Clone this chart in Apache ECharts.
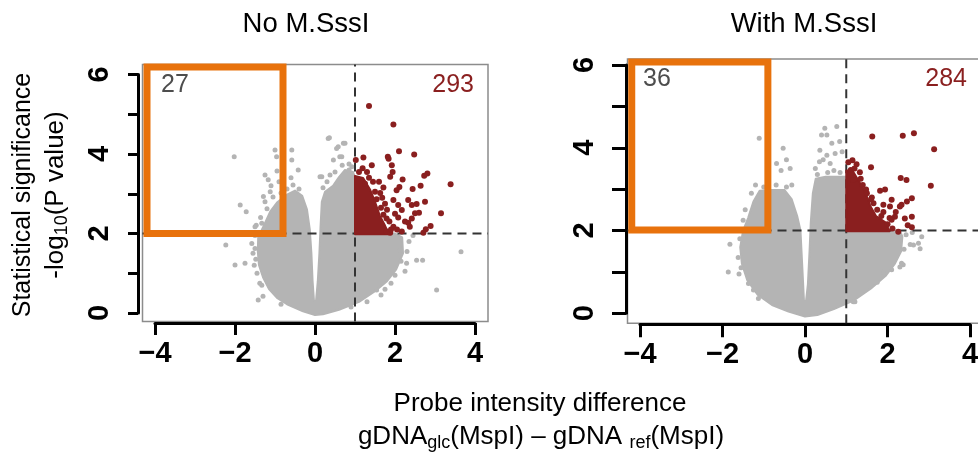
<!DOCTYPE html>
<html><head><meta charset="utf-8">
<script src="https://cdn.jsdelivr.net/npm/echarts@6/dist/echarts.min.js"></script>
<style>html,body{margin:0;padding:0;background:#fff}#c{width:978px;height:452px}</style>
</head><body><div id="c"></div>
<script>
// ---------------- data ----------------
const panelTitles = ['No M.SssI', 'With M.SssI'];
const xTickValues = [-4, -2, 0, 2, 4];
const yTickValues = [0, 1, 2, 3, 4, 5, 6];
const diffCut = 1;          // x threshold (dashed vertical)
const sigCut = 2;           // y threshold (dashed horizontal)
const countsNoSss = ['27', '293'];
const countsWithSss = ['36', '284'];

// dense cloud outline (non-significant probes), data units
const cloudNoSss = [[0,-0.05],[-0.3,0.04],[-0.7,0.22],[-0.95,0.38],[-1.15,0.6],[-1.3,0.9],[-1.4,1.2],[-1.43,1.55],[-1.42,1.9],[-1.28,2.2],[-1.12,2.55],[-0.95,2.78],[-0.7,2.98],[-0.5,3.08],[-0.32,2.95],[-0.2,2.6],[-0.13,2.1],[-0.09,1.5],[-0.06,0.8],[-0.025,0.3],[0.025,0.3],[0.07,0.8],[0.11,1.5],[0.14,2.2],[0.17,2.8],[0.25,3.05],[0.45,3.2],[0.6,3.42],[0.75,3.6],[0.95,3.55],[1.0,3.4],[1.0,2.0],[1.5,2.0],[2.0,2.0],[2.18,1.9],[2.2,1.5],[2.03,1.1],[1.8,0.8],[1.5,0.55],[1.1,0.28],[0.6,0.08],[0.2,-0.03]];
const cloudWithSss = [[0,-0.08],[-0.4,0.04],[-0.8,0.2],[-1.15,0.45],[-1.4,0.8],[-1.53,1.2],[-1.57,1.6],[-1.5,2.0],[-1.38,2.3],[-1.25,2.7],[-1.1,2.96],[-0.8,2.98],[-0.5,2.98],[-0.32,2.75],[-0.19,2.35],[-0.11,2.0],[-0.07,1.2],[-0.025,0.3],[0.025,0.3],[0.07,0.7],[0.11,1.5],[0.14,2.2],[0.19,2.9],[0.26,3.25],[0.5,3.3],[0.8,3.3],[1.0,3.3],[1.0,2.0],[1.6,2.0],[2.3,2.0],[2.36,1.85],[2.33,1.5],[2.18,1.2],[1.95,0.9],[1.6,0.6],[1.2,0.32],[0.7,0.1],[0.3,-0.04]];

// scattered non-significant probes
const grayNoSss = [[-2.02,3.93],[-1.87,2.72],[-1.72,2.55],[-2.23,1.71],[-2.0,1.21],[-1.75,1.25],[-1.47,2.21],[-1.0,4.1],[-0.96,3.93],[-0.58,4.1],[-0.58,3.85],[-0.42,3.6],[-0.95,3.57],[-1.25,3.47],[-1.17,3.35],[-1.1,3.2],[-1.12,3.05],[-1.29,2.93],[-1.25,2.8],[-1.33,2.26],[-1.5,2.17],[-1.58,1.75],[-1.55,1.5],[-1.52,1.2],[-1.42,0.33],[-1.3,0.42],[-1.33,0.7],[-0.85,0.22],[-1.45,1.0],[-1.5,1.95],[-1.38,0.75],[-1.48,1.35],[-1.5,1.62],[-1.36,2.4],[-1.2,2.62],[-1.05,2.92],[-0.85,3.02],[-0.7,3.12],[-0.55,3.22],[-0.4,3.12],[-0.9,3.3],[-0.6,3.4],[0.36,4.41],[0.58,4.18],[0.71,4.27],[0.62,3.93],[0.92,3.68],[0.17,3.43],[0.375,3.47],[0.125,3.43],[0.33,4.39],[0.54,4.14],[0.75,4.27],[0.67,3.93],[0.46,3.85],[0.85,3.75],[0.3,3.3],[0.2,3.15],[0.5,3.55],[0.68,3.72],[0.85,3.6],[3.65,1.54],[3.04,0.58],[2.54,1.33],[2.69,1.33],[2.29,1.25],[1.54,0.58],[1.65,0.45],[2.125,1.58],[2.35,1.8],[2.45,1.95],[2.3,1.55],[2.0,0.95],[1.9,0.75],[1.3,0.28],[0.9,0.15],[2.25,1.05],[2.15,1.3],[1.75,0.6]];
const grayWithSss = [[-1.11,4.23],[-0.53,3.99],[-0.45,3.71],[-0.36,3.5],[-0.69,3.62],[-0.58,3.45],[-0.32,3.1],[-1.5,2.25],[-1.82,1.67],[-1.86,1.0],[-1.37,0.72],[-1.25,0.56],[-1.13,0.36],[-1.65,2.0],[-1.62,1.35],[-1.3,2.9],[-1.2,3.1],[-1.6,0.95],[-0.9,3.15],[-1.45,2.5],[-1.58,1.8],[-1.55,1.1],[-1.0,3.05],[-0.7,3.1],[-0.45,3.05],[0.48,4.47],[0.53,4.31],[0.36,3.94],[0.65,4.11],[0.73,3.86],[0.44,3.71],[0.61,3.62],[0.4,4.31],[0.77,4.51],[0.84,4.15],[0.35,3.66],[0.53,3.82],[0.9,3.9],[0.25,3.5],[0.7,3.45],[0.3,3.35],[0.55,3.4],[0.85,3.4],[2.83,1.85],[2.63,1.65],[2.38,1.17],[1.17,0.28],[2.75,1.69],[2.79,1.56],[2.55,1.66],[2.34,1.21],[2.3,1.12],[1.9,1.0],[1.21,0.28],[2.45,1.9],[2.6,1.95],[2.4,1.55],[2.1,1.05],[1.75,0.75]];

// dense significant cluster outline and scattered significant probes
const redCoreNoSss = [[1.0,1.98],[1.85,1.98],[1.75,2.2],[1.62,2.45],[1.5,2.8],[1.38,3.1],[1.2,3.4],[1.0,3.45]];
const redCoreWithSss = [[1.0,1.98],[2.05,1.98],[1.95,2.2],[1.72,2.35],[1.58,2.6],[1.45,2.95],[1.3,3.2],[1.15,3.45],[1.0,3.45]];
const redNoSss = [[1.35,5.21],[1.96,4.74],[1.02,3.85],[1.21,3.91],[1.19,3.64],[1.42,3.72],[1.82,3.93],[1.84,3.88],[2.10,4.07],[2.48,3.99],[1.92,3.72],[1.94,3.55],[1.88,3.43],[2.19,3.36],[2.81,3.51],[2.73,3.45],[3.39,3.24],[2.64,3.20],[2.44,3.12],[2.11,3.17],[2.04,3.09],[1.71,3.16],[2.75,2.80],[2.33,2.84],[2.42,2.72],[2.54,2.74],[2.08,2.72],[1.96,2.84],[2.17,2.59],[2.50,2.51],[2.60,2.52],[3.15,2.51],[2.42,2.38],[2.33,2.27],[2.08,2.40],[2.37,2.17],[2.89,2.19],[2.77,2.11],[2.71,2.02],[1.86,2.30],[1.79,2.38],[1.71,2.47],[1.96,2.17],[2.17,2.05],[1.79,2.05],[1.63,3.02],[1.54,2.86],[1.3,3.55],[1.6,3.3],[1.75,2.75],[2.0,2.5],[2.25,2.3],[2.05,2.1],[1.88,2.02],[1.9,2.1],[1.8,2.6],[1.68,2.9],[1.45,3.3],[1.35,3.4],[1.1,3.55],[1.25,3.25],[1.5,3.05],[1.65,2.65]];
const redWithSss = [[1.63,4.27],[2.37,4.29],[2.64,4.35],[3.13,3.96],[1.60,3.53],[2.32,3.27],[2.46,3.22],[3.05,3.08],[1.11,3.46],[1.33,3.41],[1.17,3.22],[1.82,2.96],[1.94,2.99],[1.48,2.99],[2.10,2.74],[2.59,2.78],[2.47,2.70],[2.34,2.62],[2.30,2.58],[1.90,2.62],[2.06,2.58],[1.62,2.80],[1.66,2.66],[2.59,2.33],[2.42,2.29],[2.18,2.33],[2.10,2.26],[2.49,2.13],[2.59,2.08],[2.26,1.97],[2.0,2.15],[1.9,2.45],[2.2,2.45],[1.4,3.1],[1.25,3.6],[1.15,3.7],[2.12,2.05],[2.05,2.3],[1.85,2.35],[1.75,2.5],[1.6,2.75],[1.5,2.9],[1.35,3.25],[1.2,3.5],[1.05,3.65]];

// selection boxes (orange)
const selBoxNoSss = [[-4.2,2.0],[-0.8,2.0],[-0.8,6.19],[-4.2,6.19],[-4.2,2.0]];
const selBoxWithSss = [[-4.2,2.01],[-0.9,2.01],[-0.9,6.07],[-4.2,6.07],[-4.2,2.01]];

// ---------------- chart ----------------
const FONT = '"Liberation Sans", Arial, Helvetica, sans-serif';
const GRAY = '#b4b4b4', RED = '#8a1f1f', ORANGE = '#e8720c';
const chart = echarts.init(document.getElementById('c'), null, {renderer: 'canvas'});

const ranges = [
  {x: [-4.3125, 4.325], y: [-0.214, 6.252]},
  {x: [-4.303, 4.327], y: [-0.2415, 6.143]}
];
const grids = [
  {left: 142.5, top: 64.5, width: 345.5, height: 257, show: true, borderColor: '#8c8c8c', borderWidth: 1.5, outerBoundsMode: 'none'},
  {left: 155, top: 74.5, width: 320, height: 238.5, outerBoundsMode: 'none'},
  {left: 627.5, top: 59, width: 356, height: 264.3, show: true, borderColor: '#8c8c8c', borderWidth: 1.5, outerBoundsMode: 'none'},
  {left: 640, top: 65, width: 330, height: 248.3, outerBoundsMode: 'none'}
];
const axLine = {show: true, onZero: false, lineStyle: {color: '#000', width: 3}};
function boxAxis(g, r){ return {gridIndex: g, type: 'value', min: r[0], max: r[1], show: false, splitLine: {show: false}, axisLine: {onZero: false}}; }
function tickX(g, off, tl){ return {gridIndex: g, type: 'value', min: xTickValues[0], max: xTickValues[xTickValues.length-1], interval: 2,
  position: 'bottom', offset: off, axisLine: axLine, splitLine: {show: false},
  axisTick: {show: true, inside: false, length: tl, lineStyle: {color: '#000', width: 3}},
  axisLabel: {fontSize: 29, fontWeight: 'bold', fontFamily: FONT, color: '#000', margin: 16,
    formatter: v => String(v).replace('-', '\u2212')}}; }
function tickY(g, off, tl, mg){ return {gridIndex: g, type: 'value', min: yTickValues[0], max: yTickValues[yTickValues.length-1], interval: 1,
  position: 'left', offset: off, axisLine: axLine, splitLine: {show: false},
  axisTick: {show: true, inside: false, length: tl, lineStyle: {color: '#000', width: 3}},
  axisLabel: {fontSize: 29, fontWeight: 'bold', fontFamily: FONT, color: '#000', margin: mg, rotate: 90,
    formatter: v => (v % 2 === 0 ? String(v) : '')}}; }

function poly(pts, ai, color, z){
  return {type: 'custom', xAxisIndex: ai, yAxisIndex: ai, silent: true, z: z, data: [[0, 0]],
    renderItem: (p, api) => ({type: 'polygon', shape: {points: pts.map(q => api.coord(q))},
      style: {fill: color, stroke: color, lineWidth: 2, lineJoin: 'round'}})};
}
function dots(pts, ai, color, size, z){
  return {type: 'scatter', xAxisIndex: ai, yAxisIndex: ai, data: pts, symbolSize: size, silent: true, z: z,
    itemStyle: {color: color, opacity: 1}, clip: true};
}
function dashes(ai, r){
  return [
    {type: 'line', xAxisIndex: ai, yAxisIndex: ai, data: [[diffCut, r.y[0]], [diffCut, r.y[1]]], symbol: 'none', silent: true, z: 3,
      lineStyle: {color: '#333', width: 2, type: [9, 6]}},
    {type: 'line', xAxisIndex: ai, yAxisIndex: ai, data: [[r.x[0], sigCut], [r.x[1], sigCut]], symbol: 'none', silent: true, z: 3,
      lineStyle: {color: '#333', width: 2, type: [9, 6]}}
  ];
}
function box(pts, ai){
  return {type: 'line', xAxisIndex: ai, yAxisIndex: ai, data: pts, symbol: 'none', silent: true, z: 6, clip: false,
    lineStyle: {color: ORANGE, width: 7, join: 'miter', cap: 'square'}};
}

const series = [
  poly(cloudNoSss, 0, GRAY, 1), dots(grayNoSss, 0, GRAY, 5, 2), ...dashes(0, ranges[0]),
  poly(redCoreNoSss, 0, RED, 4), dots(redNoSss, 0, RED, 6, 5), box(selBoxNoSss, 0),
  poly(cloudWithSss, 2, GRAY, 1), dots(grayWithSss, 2, GRAY, 5, 2), ...dashes(2, ranges[1]),
  poly(redCoreWithSss, 2, RED, 4), dots(redWithSss, 2, RED, 6, 5), box(selBoxWithSss, 2)
];

function txt(x, y, s, size, color, align){
  return {type: 'text', x: x, y: y, silent: true, z: 10,
    style: {text: s, fontSize: size, fontFamily: FONT, fill: color, textAlign: align, textVerticalAlign: 'middle', align: align, verticalAlign: 'middle'}};
}
const subRich = {sub: {fontSize: 18, fontFamily: FONT, fill: '#000', padding: [13, 0, 0, 0]}};
const graphic = [
  txt(306, 24, panelTitles[0], 27.5, '#000', 'center'),
  txt(804, 24, panelTitles[1], 27.5, '#000', 'center'),
  txt(161, 85, countsNoSss[0], 25, '#4d4d4d', 'left'),
  txt(474, 85, countsNoSss[1], 25, RED, 'right'),
  txt(643, 79, countsWithSss[0], 25, '#4d4d4d', 'left'),
  txt(967, 79, countsWithSss[1], 25, RED, 'right'),
  {type: 'text', x: 23, y: 195, rotation: Math.PI / 2, silent: true, z: 10,
    style: {text: 'Statistical significance', fontSize: 25, fontFamily: FONT, fill: '#000', align: 'center', verticalAlign: 'middle', textAlign: 'center', textVerticalAlign: 'middle'}},
  {type: 'text', x: 56, y: 195, rotation: Math.PI / 2, silent: true, z: 10,
    style: {text: '-log{sub|10}(P value)', rich: subRich, fontSize: 26, fontFamily: FONT, fill: '#000', align: 'center', verticalAlign: 'middle', textAlign: 'center', textVerticalAlign: 'middle'}},
  {type: 'text', x: 540, y: 404, silent: true, z: 10,
    style: {text: 'Probe intensity difference', fontSize: 26, fontFamily: FONT, fill: '#000', align: 'center', verticalAlign: 'middle', textAlign: 'center', textVerticalAlign: 'middle'}},
  {type: 'text', x: 541, y: 437, silent: true, z: 10,
    style: {text: 'gDNA{sub|glc}(MspI) \u2013 gDNA {sub|ref}(MspI)', rich: subRich, fontSize: 26, fontFamily: FONT, fill: '#000', align: 'center', verticalAlign: 'middle', textAlign: 'center', textVerticalAlign: 'middle'}}
];

chart.setOption({
  animation: false,
  backgroundColor: '#fff',
  grid: grids,
  xAxis: [boxAxis(0, ranges[0].x), tickX(1, 10, 12), boxAxis(2, ranges[1].x), tickX(3, 11, 13)],
  yAxis: [boxAxis(0, ranges[0].y), tickY(1, 17, 10, 24), boxAxis(2, ranges[1].y), tickY(3, 14, 14, 27)],
  series: series,
  graphic: graphic
});
</script></body></html>
